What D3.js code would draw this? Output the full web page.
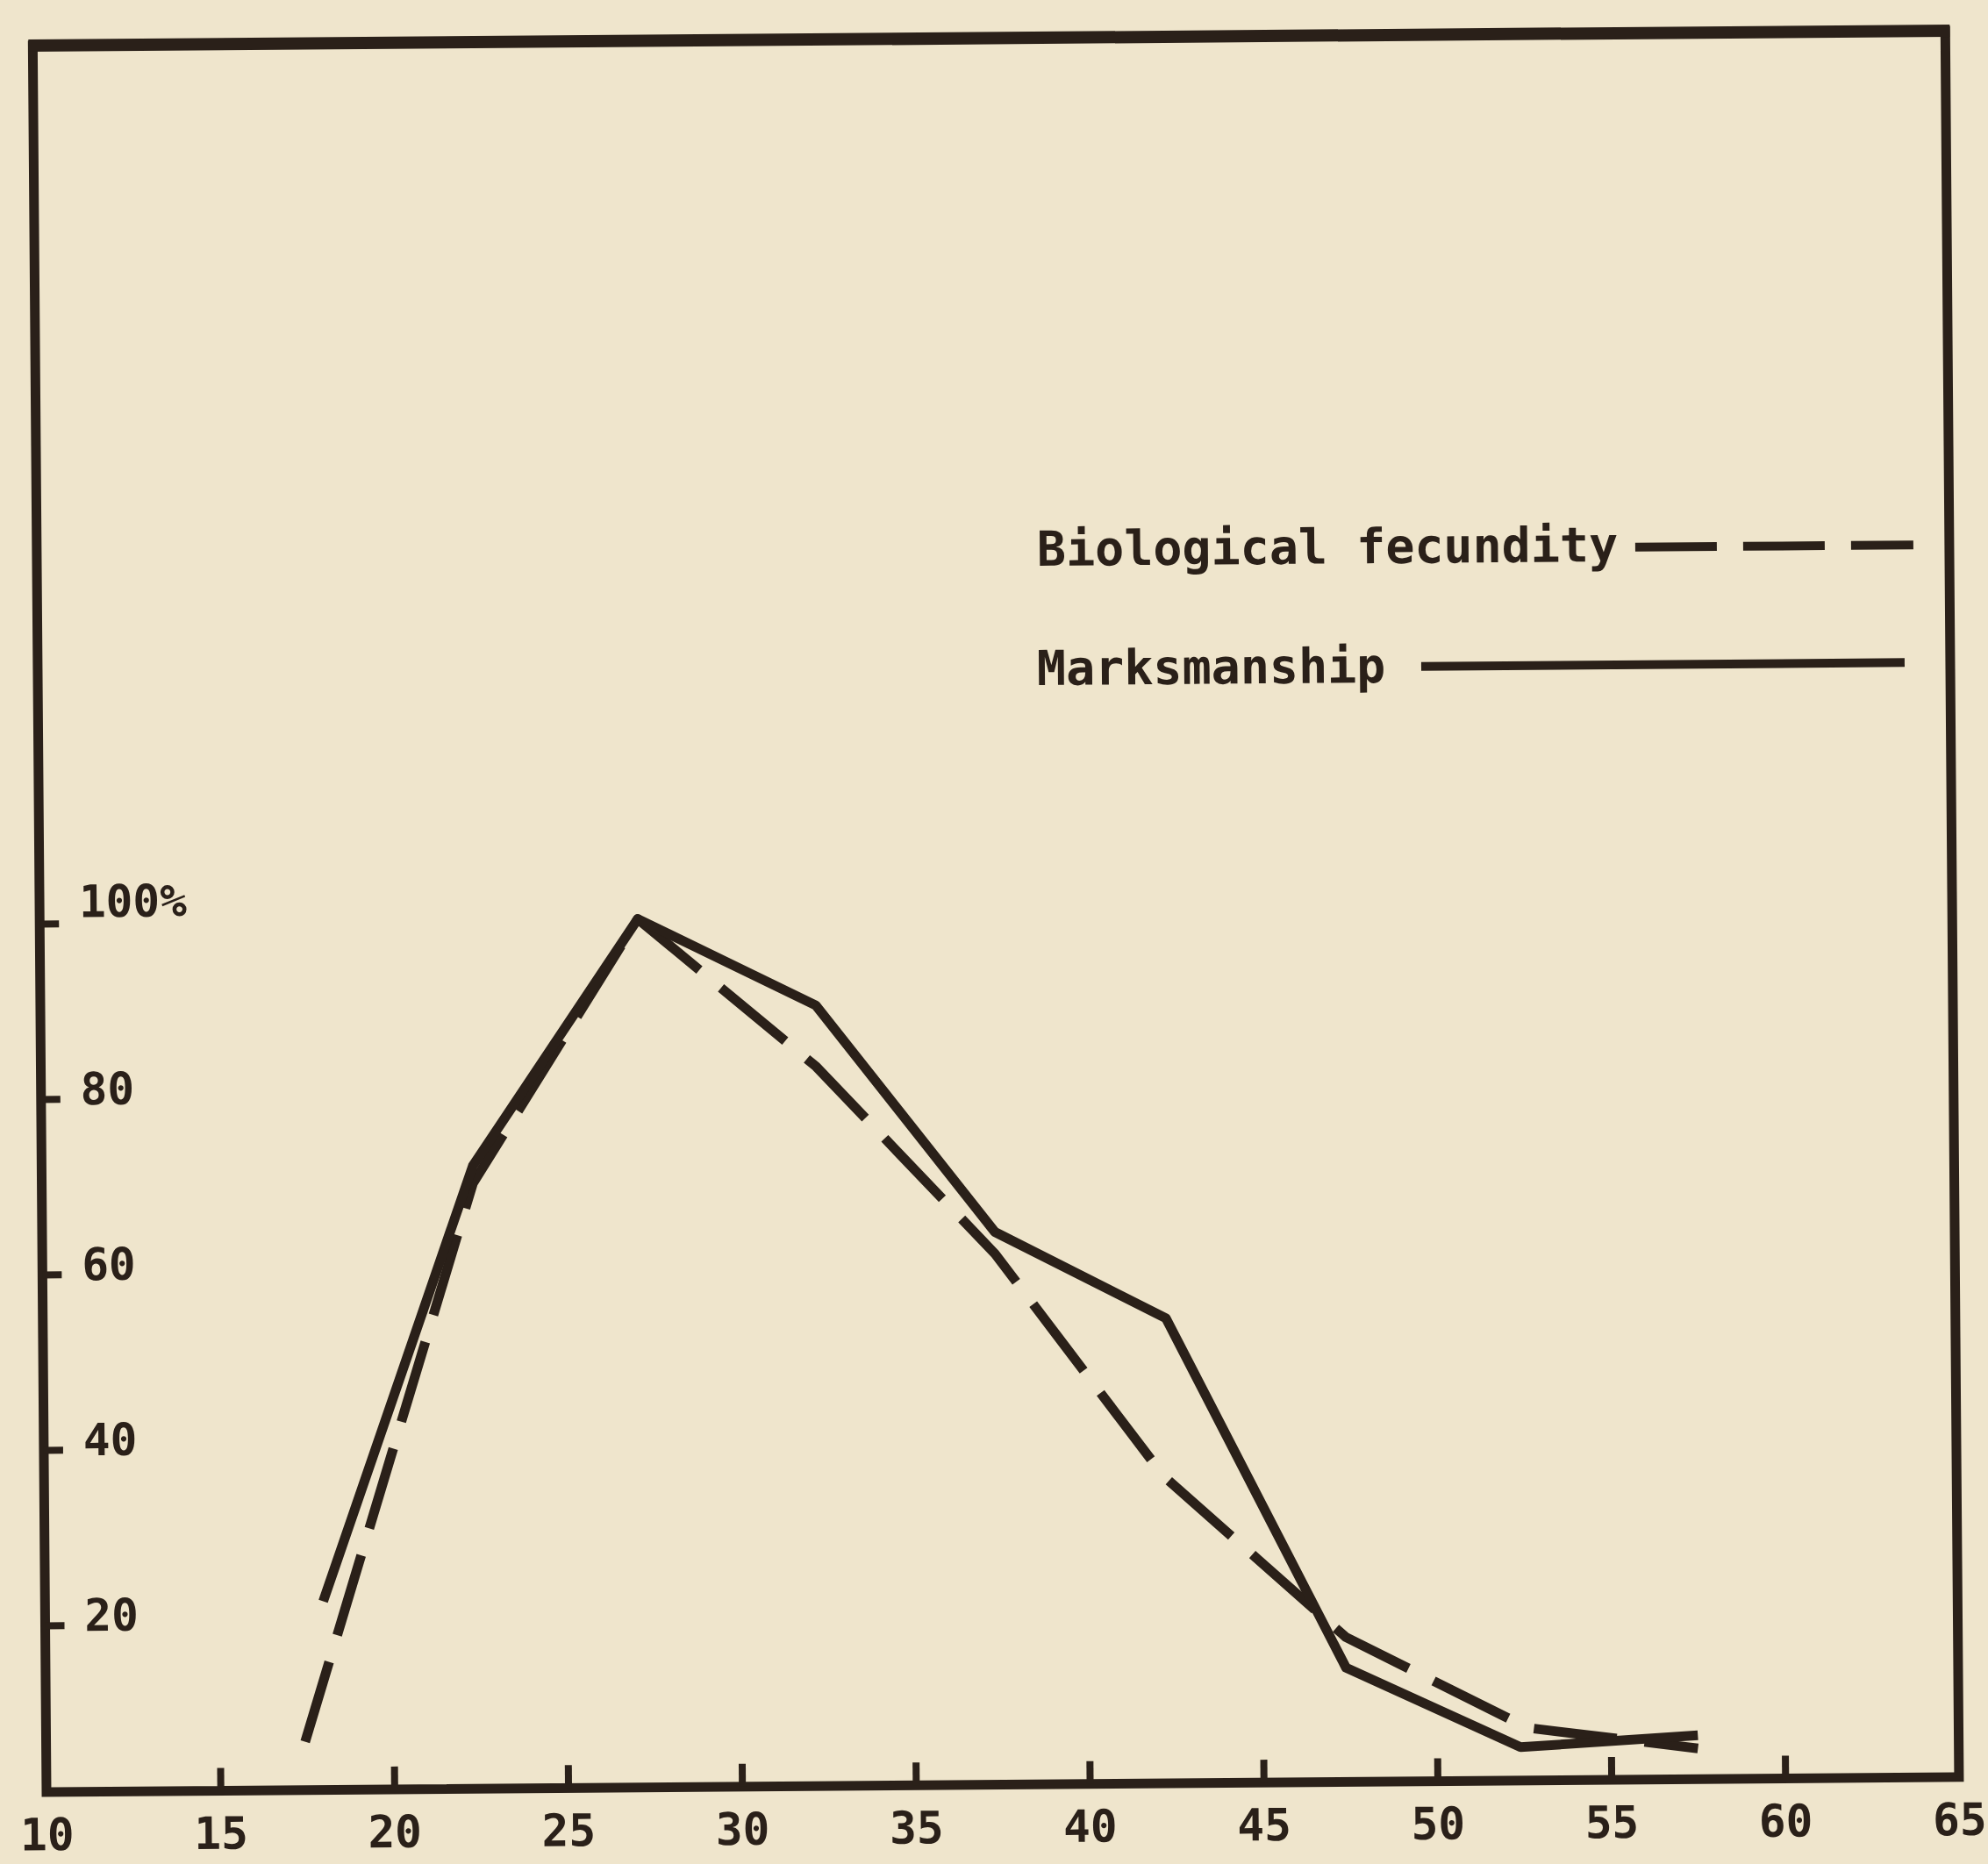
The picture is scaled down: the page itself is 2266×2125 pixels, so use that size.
<!DOCTYPE html>
<html>
<head>
<meta charset="utf-8">
<script src="https://cdn.jsdelivr.net/npm/d3@7"></script>
<style>
  html, body { margin: 0; padding: 0; background: #efe5cc; }
  svg { display: block; }
</style>
</head>
<body>
<script>
// values (age in years, % of maximum)
const xTicks = [10, 15, 20, 25, 30, 35, 40, 45, 50, 55, 60, 65];
const yTicks = [20, 40, 60, 80, 100];

const fecAges = [17.45, 22.4, 27.2, 32.3, 37.4, 42.2, 47.4, 52.6, 57.5];
const fecVals = [6.5, 70, 100, 83, 61.5, 36, 17.5, 7, 4.5];

const marksAges = [18.0, 22.4, 27.2, 32.3, 37.4, 42.3, 47.4, 52.4, 57.5];
const marksVals = [22.5, 72, 100, 90, 64, 54, 14, 4.8, 6];

const legendNames = ["Biological fecundity", "Marksmanship"];

const w = 2266;
const h = 2125;
const ink = "#2a2019";
const paper = "#efe5cc";
const font = "'DejaVu Sans Mono', 'Liberation Mono', monospace";

// plot box (before the slight tilt of the scan)
const boxLeft = 53, boxRight = 2233, boxTop = 52, boxBottom = 2043;

const svg = d3.select("body")
  .append("svg")
  .attr("width", w)
  .attr("height", h);

svg.append("rect")
  .attr("width", w)
  .attr("height", h)
  .attr("fill", paper);

// the printed page is a little rotated
const g = svg.append("g")
  .attr("transform", `rotate(-0.45, ${boxLeft}, ${boxBottom})`);

const x = d3.scaleLinear()
  .domain([10, 65])
  .range([boxLeft, boxRight]);

const y = d3.scaleLinear()
  .domain([0, 100])
  .range([boxBottom + 10, boxBottom - 990]);

// frame
g.append("rect")
  .attr("x", boxLeft)
  .attr("y", boxTop)
  .attr("width", boxRight - boxLeft)
  .attr("height", boxBottom - boxTop)
  .attr("fill", "none")
  .attr("stroke", ink)
  .attr("stroke-width", 11);

g.append("line")
  .attr("x1", boxLeft - 5).attr("x2", boxRight + 5)
  .attr("y1", boxTop).attr("y2", boxTop)
  .attr("stroke", ink)
  .attr("stroke-width", 14);

// x axis, ticks pointing inward
const xAxis = g.append("g")
  .attr("transform", `translate(0, ${boxBottom})`)
  .call(d3.axisBottom(x)
    .tickValues(xTicks)
    .tickSizeInner(-26)
    .tickSizeOuter(0)
    .tickPadding(30));

// y axis, ticks pointing inward, labels inside the box
const yAxis = g.append("g")
  .attr("transform", `translate(${boxLeft}, 0)`)
  .call(d3.axisRight(y)
    .tickValues(yTicks)
    .tickSize(22)
    .tickPadding(23)
    .tickFormat(d => d === 100 ? "100%" : d));

[xAxis, yAxis].forEach(a => {
  a.select(".domain").remove();
  a.selectAll(".tick line")
    .attr("stroke", ink)
    .attr("stroke-width", 8);
  a.selectAll(".tick text")
    .attr("fill", ink)
    .style("font-family", font)
    .style("font-weight", "bold")
    .style("font-size", "51px");
});

yAxis.selectAll(".tick text")
  .attr("dy", d => d === 100 ? "-0.15em" : "0.12em");

// series
const line = d3.line()
  .x(d => x(d[0]))
  .y(d => y(d[1]));

g.append("path")
  .datum(d3.zip(fecAges, fecVals))
  .attr("d", line)
  .attr("fill", "none")
  .attr("stroke", ink)
  .attr("stroke-width", 11)
  .attr("stroke-linejoin", "round")
  .attr("stroke-dasharray", "95,32");

g.append("path")
  .datum(d3.zip(marksAges, marksVals))
  .attr("d", line)
  .attr("fill", "none")
  .attr("stroke", ink)
  .attr("stroke-width", 11)
  .attr("stroke-linejoin", "round");

// legend
const legend = g.append("g")
  .style("font-family", font)
  .style("font-weight", "bold")
  .style("font-size", "55px")
  .attr("fill", ink);

legend.append("text")
  .attr("x", 1193)
  .attr("y", 654)
  .text(legendNames[0]);

legend.append("line")
  .attr("x1", 1875).attr("x2", 2192)
  .attr("y1", 638).attr("y2", 638)
  .attr("stroke", ink)
  .attr("stroke-width", 10)
  .attr("stroke-dasharray", "93,30");

legend.append("text")
  .attr("x", 1192)
  .attr("y", 790)
  .text(legendNames[1]);

legend.append("line")
  .attr("x1", 1630).attr("x2", 2181)
  .attr("y1", 772).attr("y2", 772)
  .attr("stroke", ink)
  .attr("stroke-width", 10);
</script>
</body>
</html>
